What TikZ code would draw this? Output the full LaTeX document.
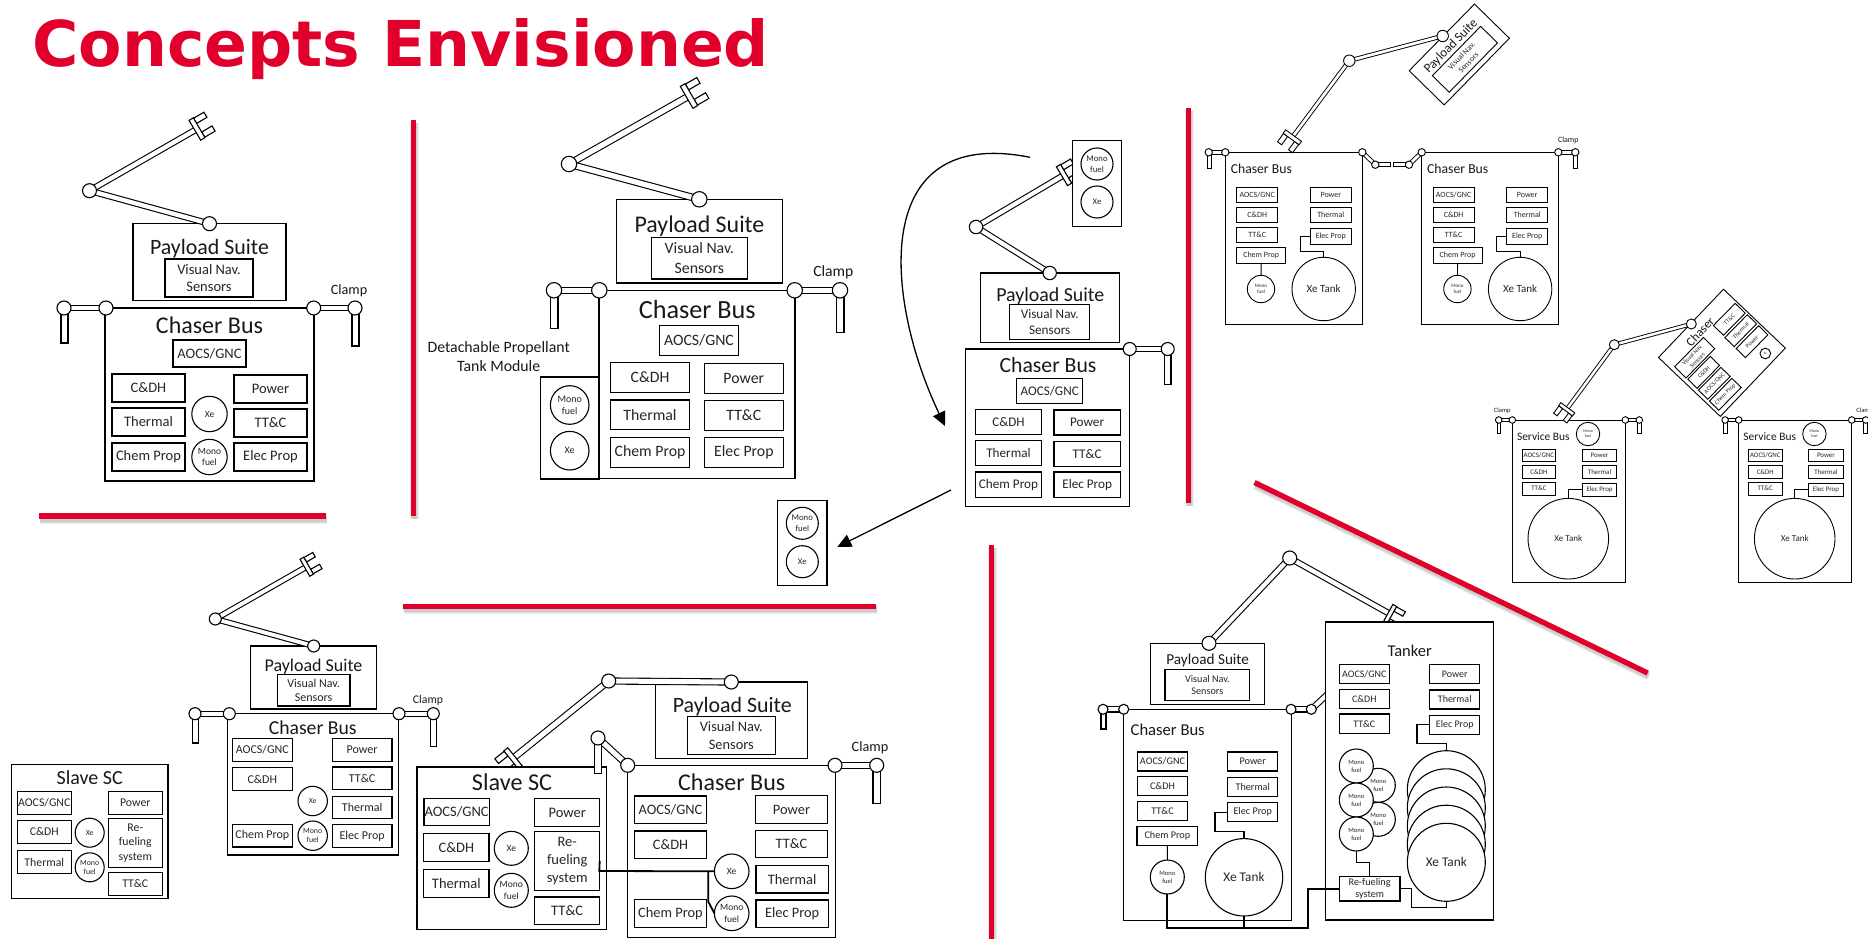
\documentclass[tikz,border=0pt]{standalone}
\usepackage{fontspec}
\setmainfont{Carlito}
\newfontfamily\titlefont{DejaVu Sans}
\usetikzlibrary{arrows.meta}
\definecolor{cred}{HTML}{E0002B}
\pgfdeclarelayer{top}
\pgfsetlayers{main,top}
\newcommand\fs[1]{\pgfmathsetmacro\lsk{1.22*#1}\fontsize{#1}{\lsk}\selectfont}
\def\lw{1.1}
\def\dd{4.3}
\tikzset{
  bxs/.style={draw=black,fill=white,line width=\lw,inner sep=0pt,outer sep=0pt,align=center,text=black!85},
  cirs/.style={circle,draw=black,fill=white,line width=\lw,inner sep=0pt,outer sep=0pt,align=center,text=black!85},
  jts/.style={circle,draw=black,fill=white,line width=\lw,inner sep=0pt,outer sep=0pt},
  link/.style={draw=black,line width=\lw,double=white,double distance=\dd},
  grips/.style={draw=black,fill=white,line width=\lw},
  wire/.style={draw=black,line width=\lw},
  thwire/.style={draw=black,line width=1.8},
  lbls/.style={inner sep=0pt,outer sep=0pt,align=center,text=black!90},
  redbar/.style={draw=cred,line width=5.3},
  redsh/.style={draw=black,opacity=.07},
}
% box by corners: font size, name, x1,y1,x2,y2, text
\newcommand\bx[7]{\node[bxs,font=\fs{#1},minimum width={#5-#3},minimum height={#6-#4}] (#2) at ({(#3+#5)/2},{(#4+#6)/2}) {#7};}
\newcommand\rbx[8]{\node[bxs,font=\fs{#1},minimum width={#5},minimum height={#6},rotate=#7] (#2) at (#3,#4) {#8};}
\newcommand\cir[6]{\node[cirs,font=\fs{#1},minimum size={2*#5}] (#2) at (#3,#4) {#6};}
\newcommand\lbl[5]{\node[lbls,font=\fs{#1}] (#2) at (#3,#4) {#5};}
\newcommand\jt[4]{\begin{pgfonlayer}{top}\node[jts,minimum size={2*#4}] (#1) at (#2,#3) {};\end{pgfonlayer}}
\newcommand\lnk[2]{\draw[link] (#1.center) -- (#2.center);}
\newcommand\grp[6]{\coordinate (#1) at (#2,#3);\draw[link] (#6.center) -- (#1);
  \begin{scope}[shift={(#2,#3)},rotate=#4,scale=#5]
  \draw[grips] (2.5,5) rectangle (14.5,11);
  \draw[grips] (2.5,-11) rectangle (14.5,-5);
  \draw[grips] (-2.5,-11.5) rectangle (2.5,11.5);
  \end{scope}}
\newcommand\redl[4]{%
 \draw[redsh,line width=9] ({#1+1},{#2+3}) -- ({#3+1},{#4+3});
 \draw[redsh,line width=7] ({#1+1},{#2+3}) -- ({#3+1},{#4+3});
 \draw[redsh,line width=5] ({#1+1},{#2+3}) -- ({#3+1},{#4+3});
 \draw[redbar] (#1,#2) -- (#3,#4);}
\begin{document}
\begin{tikzpicture}[x=1pt,y=-1pt]
\useasboundingbox (0,0) rectangle (1868,939);
\clip (0,0) rectangle (1868,939);
\fill[white] (0,0) rectangle (1868,939);
% title
\node[anchor=base west,inner sep=0pt,text=cred,font=\titlefont\bfseries\fontsize{63.2}{70}\selectfont] (title) at (32,67) {Concepts Envisioned};
% red separators
\redl{39}{516}{326}{516}
\redl{413.7}{120.3}{413.7}{516}
\redl{1188.3}{107.7}{1188.3}{503.3}
\redl{991.7}{545}{991.7}{945}
\redl{402.7}{606.7}{875.5}{606.7}
\redl{1254.5}{482.5}{1647.6}{673}

%%%%% Panel A
\def\lw{1.1}\def\dd{4.3}
\bx{14.5}{aPay}{133}{223.7}{286}{300.7}{}
\lbl{21.9}{aPayT}{209.5}{249}{Payload Suite}
\bx{14.5}{aVis}{165}{259}{253}{297}{Visual Nav.\\Sensors}
\bx{14.5}{aBus}{105}{308}{314}{481}{}
\lbl{24}{aBusT}{209.5}{325.7}{Chaser Bus}
\bx{14.5}{aAocs}{173}{340}{246}{367}{AOCS/GNC}
\bx{14.5}{aCdh}{112}{374}{185}{402}{C\&DH}
\bx{14.5}{aTh}{112}{408}{185}{436}{Thermal}
\bx{14.5}{aCh}{112}{443}{185}{471}{Chem Prop}
\bx{14.5}{aPw}{234}{375}{307}{403}{Power}
\bx{14.5}{aTt}{234}{409}{307}{437}{TT\&C}
\bx{14.5}{aEl}{234}{443}{307}{471}{Elec Prop}
\cir{9.5}{aXe}{209.5}{414}{17.7}{Xe}
\cir{9.5}{aMo}{209.5}{457}{17.7}{Mono\\fuel}
\jt{aJ1}{209.5}{223.7}{7}\jt{aJ2}{89.5}{190.7}{7}
\lnk{aJ1}{aJ2}
\grp{aG}{197}{129}{30.5}{1}{aJ2}
\jt{aC1}{106}{308}{7}\jt{aC2}{64}{308}{7}
\jt{aC3}{313.7}{308}{7}\jt{aC4}{355}{308}{7}
\lnk{aC1}{aC2}\lnk{aC3}{aC4}
\bx{5}{aR1}{61}{312}{68}{343}{}
\bx{5}{aR2}{352}{312}{359}{346}{}
\lbl{14.2}{aClamp}{349}{290.7}{Clamp}

%%%%% Panel B
\def\dd{5.3}
\bx{15.8}{bPay}{616.3}{199.3}{782.3}{283}{}
\lbl{23.9}{bPayT}{699.5}{226}{Payload Suite}
\bx{15.8}{bVis}{651.3}{237.3}{747.3}{279}{Visual Nav.\\Sensors}
\bx{15.8}{bBus}{599}{290.7}{795}{478.3}{}
\lbl{26.2}{bBusT}{697.3}{309.3}{Chaser Bus}
\bx{15.8}{bAocs}{659.7}{325.3}{738.3}{355.3}{AOCS/GNC}
\bx{15.8}{bCdh}{610.7}{362.3}{689.3}{392.3}{C\&DH}
\bx{15.8}{bTh}{610.7}{400}{689.3}{429.7}{Thermal}
\bx{15.8}{bCh}{610.7}{437.7}{689.3}{467.3}{Chem Prop}
\bx{15.8}{bPw}{704.3}{363.3}{783.3}{393.3}{Power}
\bx{15.8}{bTt}{704.3}{400.7}{783.3}{430.3}{TT\&C}
\bx{15.8}{bEl}{704.3}{437.7}{783.3}{467.3}{Elec Prop}
\bx{10}{bMod}{540.3}{377}{599}{479}{}
\cir{10}{bMo}{569.7}{405}{19.3}{Mono\\fuel}
\cir{10}{bXe}{569.7}{450.7}{19.3}{Xe}
\lbl{15.8}{bDet}{498.7}{356.3}{Detachable Propellant\\Tank Module}
\jt{bJ1}{699.3}{199.3}{7.7}\jt{bJ2}{569}{164}{7.7}
\lnk{bJ1}{bJ2}
\grp{bG}{689}{96}{30}{1.1}{bJ2}
\jt{bC1}{599.3}{290.3}{7.7}\jt{bC2}{554}{290.3}{7.7}
\jt{bC3}{794.7}{290.3}{7.7}\jt{bC4}{840}{290.3}{7.7}
\lnk{bC1}{bC2}\lnk{bC3}{bC4}
\bx{5}{bR1}{550.3}{295}{558}{328.3}{}
\bx{5}{bR2}{836.3}{295}{844}{332.3}{}
\lbl{15.6}{bClamp}{833.3}{272}{Clamp}

%%%%% Panel C
\def\dd{4.2}
\bx{13.2}{cPay}{980.3}{273}{1119.3}{342.7}{}
\lbl{19.9}{cPayT}{1050.3}{296}{Payload Suite}
\bx{13.2}{cVis}{1009.7}{304.3}{1089.7}{339.7}{Visual Nav.\\Sensors}
\jt{cJ1}{1049.7}{273}{6.7}\jt{cJ2}{976}{227}{6.7}
\lnk{cJ1}{cJ2}
\grp{cG}{1064}{175}{30.6}{.95}{cJ2}
\bx{10}{cMod}{1072.3}{140.7}{1121.3}{226.3}{}
\cir{8.7}{cMo}{1097}{164}{16}{Mono\\fuel}
\cir{8.7}{cXe}{1097}{202}{16}{Xe}
\bx{13.2}{cBus}{965.7}{349}{1129.7}{506.3}{}
\lbl{21.7}{cBusT}{1048}{365}{Chaser Bus}
\bx{13.2}{cAocs}{1016.7}{378.3}{1082.7}{403.7}{AOCS/GNC}
\bx{13.2}{cCdh}{975.7}{409.3}{1041.3}{434.3}{C\&DH}
\bx{13.2}{cTh}{975.7}{440.7}{1041.3}{465.7}{Thermal}
\bx{13.2}{cCh}{975.7}{472}{1041.3}{497.3}{Chem Prop}
\bx{13.2}{cPw}{1054}{410}{1120.3}{435}{Power}
\bx{13.2}{cTt}{1054}{441.3}{1120.3}{466.3}{TT\&C}
\bx{13.2}{cEl}{1054}{472}{1120.3}{497.3}{Elec Prop}
\jt{cC1}{1129.7}{349}{6.5}\jt{cC2}{1167.7}{349}{6.5}
\lnk{cC1}{cC2}
\bx{5}{cR}{1164.3}{353}{1171}{384.3}{}
\bx{10}{dMod}{777.7}{500.3}{827}{585.3}{}
\cir{8.7}{dMo}{802.3}{523.3}{16}{Mono\\fuel}
\cir{8.7}{dXe}{802.3}{561.7}{16}{Xe}
\coordinate (cA1) at (1030,157.3);\coordinate (cA2) at (945,426);
\coordinate (cA3) at (951,490);\coordinate (cA4) at (837.3,547);
\draw[line width=1.3,-{Triangle[length=14,width=13]}] (cA1) .. controls (868,125) and (885,300) .. (cA2);
\draw[line width=1.3,-{Triangle[length=14,width=13]}] (cA3) -- (cA4);

%%%%% Panel D
\def\lw{0.9}\def\dd{2.7}
\newcommand\panD[2]{\begin{scope}[xshift=#2]
\bx{8}{#1Bus}{1225.3}{152.3}{1362.3}{324.3}{}
\lbl{13.7}{#1BusT}{1261.3}{168.7}{Chaser Bus}
\bx{8}{#1Aocs}{1236.7}{187}{1277.7}{202.3}{AOCS/GNC}
\bx{8}{#1Cdh}{1236.7}{207.3}{1277.7}{222.7}{C\&DH}
\bx{8}{#1Tt}{1236.7}{227.3}{1277.7}{242.7}{TT\&C}
\bx{8}{#1Ch}{1236.7}{247.7}{1285.7}{263.3}{Chem Prop}
\bx{8}{#1Pw}{1310.3}{187}{1351.3}{202.3}{Power}
\bx{8}{#1Th}{1310.3}{207.3}{1351.3}{222.7}{Thermal}
\bx{8}{#1El}{1310.3}{228.7}{1351.3}{244}{Elec Prop}
\cir{5}{#1Mo}{1261}{289}{13.7}{Mono\\fuel}
\cir{11}{#1Xe}{1323.7}{289}{31.7}{Xe Tank}
\draw[wire] (#1Ch) -- (#1Mo);
\draw[wire] (#1El.west) -- ++(-10.3,0) -- ++(0,15.4) -| (#1Xe.north);
\end{scope}}
\panD{e}{0}
\panD{f}{196.4}
\jt{eC1}{1225.3}{152.3}{3.7}\jt{eC2}{1208.7}{152.3}{3.7}
\lnk{eC1}{eC2}
\bx{5}{eR}{1207}{155}{1211}{168.3}{}
\jt{fC1}{1558.3}{152.3}{3.7}\jt{fC2}{1575.3}{152.3}{3.7}
\lnk{fC1}{fC2}
\bx{5}{fR}{1573}{155}{1577.3}{168.3}{}
\lbl{8}{fClamp}{1568.3}{140.7}{Clamp}
\jt{eD1}{1362.3}{152.3}{3.7}\jt{eD2}{1375.3}{164.7}{3.7}
\jt{eD3}{1409}{164.7}{3.7}\jt{eD4}{1421.7}{152.3}{3.7}
\lnk{eD1}{eD2}\lnk{eD3}{eD4}
\bx{5}{eD5}{1377}{162.7}{1390.7}{166.7}{}
\bx{5}{eD6}{1393.3}{162.7}{1407}{166.7}{}
\rbx{8}{ePay}{1459.3}{54.5}{93.3}{48.9}{45.6}{}
\node[lbls,font=\fs{13},rotate=45.6] (ePayT) at (1451,46.3) {Payload Suite};
\rbx{8}{eVis}{1464.9}{59.3}{69}{23.6}{45.6}{Visual Nav.\\Sensors}
\jt{eJ1}{1442.7}{36}{5.7}\jt{eJ2}{1349.3}{60.7}{5.7}
\lnk{eJ1}{eJ2}
\grp{eG}{1292.3}{137.3}{-126}{.85}{eJ2}

%%%%% Panel E
\def\lw{0.9}\def\dd{2.5}
\newcommand\panE[2]{\begin{scope}[xshift=#2]
\bx{6.9}{#1Bus}{1512.3}{420}{1625.3}{582.7}{}
\lbl{11.4}{#1BusT}{1543.3}{436.7}{Service Bus}
\cir{4}{#1Mo}{1588}{434}{11.7}{Mono\\fuel}
\bx{6.9}{#1Aocs}{1522}{449}{1555.7}{461.7}{AOCS/GNC}
\bx{6.9}{#1Cdh}{1522}{465.3}{1555.7}{478.3}{C\&DH}
\bx{6.9}{#1Tt}{1522}{482}{1555.7}{495}{TT\&C}
\bx{6.9}{#1Pw}{1582.3}{449}{1616.7}{461.7}{Power}
\bx{6.9}{#1Th}{1582.3}{465.7}{1616.7}{478.7}{Thermal}
\bx{6.9}{#1El}{1582.3}{483.3}{1616.7}{496}{Elec Prop}
\cir{9}{#1Xe}{1568.3}{538.7}{40.3}{Xe Tank}
\draw[wire] (#1El.west) -| (#1Xe.north);
\jt{#1C1}{1512.3}{420}{3.3}\jt{#1C2}{1498.7}{420}{3.3}
\jt{#1C3}{1625.3}{420}{3.3}\jt{#1C4}{1639.3}{420}{3.3}
\lnk{#1C1}{#1C2}\lnk{#1C3}{#1C4}
\bx{5}{#1R1}{1497}{422}{1500.7}{433.3}{}
\bx{5}{#1R2}{1637.3}{422}{1641.3}{433.3}{}
\end{scope}}
\panE{g}{0}
\panE{h}{226.4}
\lbl{6.5}{gClamp}{1502.3}{410.7}{Clamp}
\lbl{6.5}{hClamp}{1864.7}{410.7}{Clamp}
\rbx{6}{kBox}{1721.9}{352.8}{94.3}{85.4}{46.4}{}
\node[lbls,font=\fs{12.5},rotate=46.4] (kT) at (1700,331.7) {Chaser};
\rbx{6}{kVis}{1694.7}{357.7}{41}{16}{45.5}{Visual Nav.\\Sensors}
\rbx{6}{kCdh}{1703.7}{372.3}{32}{13}{45.5}{C\&DH}
\rbx{6}{kAocs}{1714.3}{383.3}{32}{13}{45.5}{AOCS/GNC}
\rbx{6}{kCh}{1725.3}{394.3}{32}{13}{45.5}{Chem Prop}
\rbx{6}{kTt}{1729.3}{319.3}{31}{14}{45.5}{TT\&C}
\rbx{6}{kTh}{1740.7}{330.7}{32}{13}{45.5}{Thermal}
\rbx{6}{kPw}{1752}{341.7}{32}{13}{45.5}{Power}
\node[cirs,font=\fs{3},minimum size=10.6] (kXe) at (1765.3,353.5) {Xe};
\jt{kJ1}{1691.3}{324}{5}\jt{kJ2}{1614.3}{344.7}{5}
\lnk{kJ1}{kJ2}
\grp{kG}{1566.7}{409.3}{-126.4}{.75}{kJ2}

%%%%% Panel F
\def\lw{1.1}\def\dd{4.3}
\bx{10.2}{mPay}{1150.3}{643.7}{1264.3}{704.3}{}
\lbl{15.2}{mPayT}{1207.7}{660.3}{Payload Suite}
\bx{10.2}{mVis}{1165}{669.7}{1249.7}{700.3}{Visual Nav.\\Sensors}
\jt{mJ1}{1209}{643.3}{7}\jt{mJ2}{1289.7}{558}{7}
\lnk{mJ1}{mJ2}
\grp{mG}{1390}{614}{-28.8}{.85}{mJ2}
\jt{mC3}{1291}{709.3}{5}\jt{mC4}{1311.3}{709.3}{5}
\lnk{mC3}{mC4}
\coordinate (mTip) at (1330,692);
\draw[link] (mC4.center) -- (mTip);
\bx{10}{nBus}{1325.7}{622}{1493.3}{920}{}
\lbl{16.5}{nBusT}{1409.7}{650.7}{Tanker}
\bx{10}{nAocs}{1339.3}{664.7}{1389.3}{683.7}{AOCS/GNC}
\bx{10}{nCdh}{1339.3}{689.3}{1389.3}{708.3}{C\&DH}
\bx{10}{nTt}{1339.3}{714}{1389.3}{733.3}{TT\&C}
\bx{10}{nPw}{1429.7}{664.7}{1479.7}{683.7}{Power}
\bx{10}{nTh}{1429.7}{690}{1479.7}{709}{Thermal}
\bx{10}{nEl}{1429.7}{715.3}{1479.7}{734.3}{Elec Prop}
\cir{6.5}{nM2}{1378.3}{785.3}{17}{Mono\\fuel}
\cir{6.5}{nM4}{1378.3}{819.3}{17}{Mono\\fuel}
\cir{6.5}{nM1}{1356.3}{766}{17}{Mono\\fuel}
\cir{6.5}{nM3}{1356.3}{800}{17}{Mono\\fuel}
\cir{6.5}{nM5}{1356.3}{834}{17}{Mono\\fuel}
\cir{13.3}{nX1}{1446.3}{789.7}{39}{}
\cir{13.3}{nX2}{1446.3}{807.8}{39}{}
\cir{13.3}{nX3}{1446.3}{826}{39}{}
\cir{13.3}{nX4}{1446.3}{844.2}{39}{}
\cir{13.3}{nX5}{1446.3}{862.3}{39}{Xe Tank}
\bx{10.2}{nRe}{1339.3}{876.7}{1400}{901}{Re-fueling\\system}
\draw[wire] (nEl.west) -- ++(-12.7,0) -- ++(0,18.7) -| (nX1.north);
\draw[wire] (nM5.south) -- ++(0,11.3) -| (nRe.north);
\draw[wire] (nRe.east) -- ++(11.7,0) -- ++(0,19) -| (nX5.south);
\bx{10.2}{mBus}{1123.3}{709.3}{1291.3}{920.3}{}
\lbl{16.6}{mBusT}{1167.7}{730}{Chaser Bus}
\bx{10.2}{mAocs}{1137.3}{752}{1187.7}{771}{AOCS/GNC}
\bx{10.2}{mCdh}{1137.3}{776.7}{1187.7}{795.7}{C\&DH}
\bx{10.2}{mTt}{1137.3}{801.7}{1187.7}{820.3}{TT\&C}
\bx{10.2}{mCh}{1137}{826.3}{1197.7}{845.3}{Chem Prop}
\bx{10.2}{mPw}{1227.7}{752}{1277.7}{771}{Power}
\bx{10.2}{mTh}{1227.7}{777.3}{1277.7}{796.3}{Thermal}
\bx{10.2}{mEl}{1227.7}{802.7}{1277.7}{821.7}{Elec Prop}
\cir{6.5}{mMo}{1167.3}{877}{17}{Mono\\fuel}
\cir{13.3}{mXe}{1244}{877.3}{38.7}{Xe Tank}
\draw[wire] (mCh) -- (mMo);
\draw[wire] (mEl.west) -- ++(-12.7,0) -- ++(0,19.3) -| (mXe.north);
\jt{mC1}{1123.7}{709.3}{5}\jt{mC2}{1103}{709.3}{5}
\lnk{mC1}{mC2}
\bx{5}{mR}{1101}{712}{1106}{729}{}
\coordinate (mW) at (1308.3,928.3);
\draw[thwire] (mMo.south) |- (mW) |- (nRe.west);
\draw[thwire] (mXe.south) -- (mXe.south |- mW);

%%%%% Panel G: small Slave SC
\def\lw{1.1}\def\dd{3.9}
\bx{11.8}{pBus}{11.3}{764.3}{168}{898.3}{}
\lbl{20}{pBusT}{89.7}{778}{Slave SC}
\bx{11.8}{pAocs}{17.3}{791.7}{71.3}{814.3}{AOCS/GNC}
\bx{11.8}{pCdh}{17.3}{820.7}{71.3}{843.3}{C\&DH}
\bx{11.8}{pTh}{17.3}{850.7}{71.3}{873.3}{Thermal}
\bx{11.8}{pPw}{108.3}{791.7}{162.3}{814.3}{Power}
\bx{11.8}{pRe}{108.3}{818.3}{162.3}{867.3}{Re-\\fueling\\system}
\bx{11.8}{pTt}{108.3}{872.7}{162.3}{895.3}{TT\&C}
\cir{7.8}{pXe}{89.7}{832.7}{14.5}{Xe}
\cir{7.8}{pMo}{89.7}{867.3}{14.5}{Mono\\fuel}
%% Panel G: chaser
\bx{12}{qPay}{250.7}{646}{376.3}{709}{}
\lbl{18}{qPayT}{313.5}{666.3}{Payload Suite}
\bx{12}{qVis}{277.3}{674.7}{350}{706}{Visual Nav.\\Sensors}
\bx{12}{qBus}{227.3}{713.7}{398.3}{855}{}
\lbl{19.7}{qBusT}{312.7}{727.7}{Chaser Bus}
\bx{12}{qAocs}{232.3}{738.7}{292.3}{761.3}{AOCS/GNC}
\bx{12}{qCdh}{232.3}{767.7}{292.3}{790.3}{C\&DH}
\bx{12}{qCh}{232.3}{824.3}{292.3}{847}{Chem Prop}
\bx{12}{qPw}{332.3}{738.7}{392}{761.3}{Power}
\bx{12}{qTt}{332.3}{767}{392}{789.7}{TT\&C}
\bx{12}{qTh}{332.3}{796.3}{392}{818.7}{Thermal}
\bx{12}{qEl}{332.3}{824.7}{392}{847.3}{Elec Prop}
\cir{7.8}{qXe}{312.7}{801}{14.7}{Xe}
\cir{7.8}{qMo}{312.7}{835.7}{14.7}{Mono\\fuel}
\jt{qJ1}{313.7}{646}{6}\jt{qJ2}{215.3}{619}{6}
\lnk{qJ1}{qJ2}
\grp{qG}{306.7}{566.7}{29.8}{.85}{qJ2}
\jt{qC1}{229.3}{713.7}{6}\jt{qC2}{195}{713.7}{6}
\jt{qC3}{399}{713.7}{6}\jt{qC4}{433.3}{713.7}{6}
\lnk{qC1}{qC2}\lnk{qC3}{qC4}
\bx{5}{qR1}{192.3}{717}{198.3}{743}{}
\bx{5}{qR2}{430.3}{717}{436.3}{746.3}{}
\lbl{11.7}{qClamp}{428}{700}{Clamp}

%%%%% Panel H
\def\lw{1.1}\def\dd{5}
\bx{14.4}{rPay}{655.7}{682}{807.3}{758.3}{}
\lbl{21.9}{rPayT}{732.3}{706.2}{Payload Suite}
\bx{14.4}{rVis}{687.3}{716.7}{775.3}{754.3}{Visual Nav.\\Sensors}
\jt{rJ1}{731.3}{682}{7}\jt{rJ2}{608.7}{681}{7}
\lnk{rJ1}{rJ2}
\grp{rG}{513}{758.3}{218.6}{1}{rJ2}
\bx{14.5}{sBus}{417}{767}{606.3}{929.3}{}
\lbl{24.2}{sBusT}{512}{782.3}{Slave SC}
\bx{14.5}{sAocs}{424}{798.3}{489.3}{825.7}{AOCS/GNC}
\bx{14.5}{sCdh}{423.7}{833.7}{489}{861.3}{C\&DH}
\bx{14.5}{sTh}{423.7}{869.7}{489}{897.3}{Thermal}
\bx{14.5}{sPw}{534.7}{798.7}{599.7}{826.3}{Power}
\bx{14.5}{sRe}{534.7}{831.3}{599.7}{890.7}{Re-\\fueling\\system}
\bx{14.5}{sTt}{534.7}{897}{599.7}{924.3}{TT\&C}
\cir{9.5}{sXe}{511.3}{848.3}{17}{Xe}
\cir{9.5}{sMo}{511.3}{890.3}{17}{Mono\\fuel}
\bx{14.4}{tBus}{627.7}{765.3}{835.3}{937.3}{}
\lbl{24}{tBusT}{731.7}{782.3}{Chaser Bus}
\bx{14.4}{tAocs}{634.3}{796}{706.7}{823.3}{AOCS/GNC}
\bx{14.4}{tCdh}{634.3}{831}{706.7}{858.7}{C\&DH}
\bx{14.4}{tCh}{634.3}{899.7}{706.7}{927.3}{Chem Prop}
\bx{14.4}{tPw}{755.3}{795.7}{827.7}{823.3}{Power}
\bx{14.4}{tTt}{755.3}{830.3}{827.7}{857.7}{TT\&C}
\bx{14.4}{tTh}{756}{865.7}{828.3}{893}{Thermal}
\bx{14.4}{tEl}{756}{900}{828.3}{927.3}{Elec Prop}
\cir{9.5}{tXe}{731.7}{871.3}{17.3}{Xe}
\cir{9.5}{tMo}{731.7}{913.3}{17.3}{Mono\\fuel}
\jt{tC1}{627.7}{765.3}{7}\jt{tC2}{598}{738}{7}
\jt{tC3}{835}{765.3}{7}\jt{tC4}{876.7}{765.3}{7}
\lnk{tC1}{tC2}\lnk{tC3}{tC4}
\bx{5}{tR1}{594.3}{742}{601.3}{773.3}{}
\bx{5}{tR2}{873}{770}{880.3}{803.3}{}
\lbl{14.3}{tClamp}{870}{747.7}{Clamp}
\coordinate (tW1) at (599.3,871);
\coordinate (tW2) at (708.3,871);
\coordinate (tW3) at (708.3,901.7);
\draw[thwire] (sRe.east |- 0,861) -- (tW1) -- (tXe.west);
\draw[thwire] (tW2) -- (tW3) -- (tMo.west);
\end{tikzpicture}
\end{document}
